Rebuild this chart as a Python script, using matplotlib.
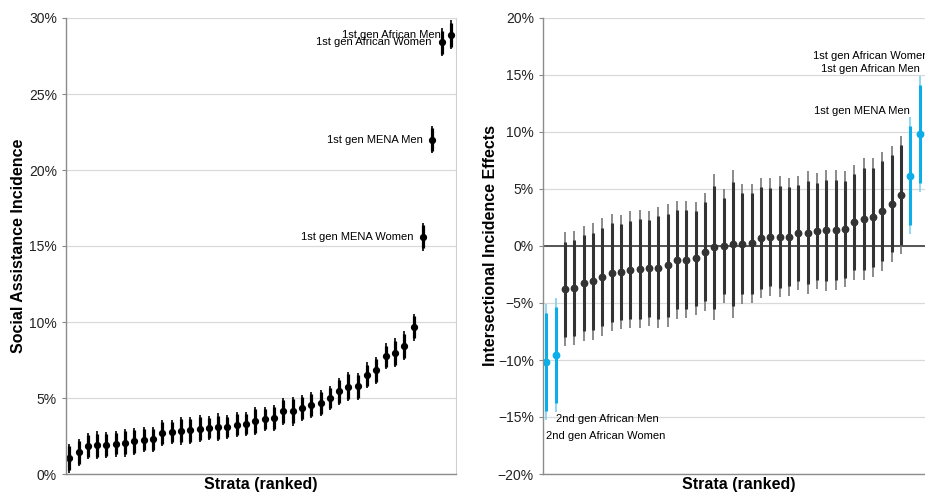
import matplotlib
matplotlib.use("Agg")
import matplotlib.pyplot as plt
from matplotlib.ticker import PercentFormatter
import numpy as np

plt.rcParams["font.family"] = ["Liberation Sans", "DejaVu Sans"]

# predicted incidence per stratum (%), ranked, with 95% CI half-widths
incidence = [1.03, 1.43, 1.84, 1.89, 1.93, 2.00, 2.06, 2.15, 2.26, 2.28,
             2.70, 2.76, 2.85, 2.87, 2.98, 3.03, 3.07, 3.11, 3.25, 3.29,
             3.49, 3.64, 3.68, 4.12, 4.14, 4.36, 4.54, 4.69, 5.00, 5.44,
             5.75, 5.77, 6.49, 6.82, 7.74, 7.98, 8.44, 9.65, 15.6, 22.0,
             28.4, 28.9]
incidence_ci = [0.95, 0.90, 0.86, 0.92, 0.85, 0.85, 0.92, 0.88, 0.80, 0.82,
                0.85, 0.80, 0.92, 0.90, 0.88, 0.80, 0.92, 0.80, 0.82, 0.78,
                0.95, 0.78, 0.85, 0.88, 0.95, 0.85, 0.85, 0.85, 0.80, 0.90,
                0.95, 0.90, 0.85, 0.90, 0.85, 0.95, 0.95, 0.87, 0.90, 0.90,
                0.92, 0.95]
incidence_labels = {39: "1st gen MENA Women", 40: "1st gen MENA Men",
                    41: "1st gen African Women", 42: "1st gen African Men"}

# intersectional effects (%), ranked, with 95% CI half-widths
effect = [-10.17, -9.59, -3.81, -3.69, -3.26, -3.11, -2.73, -2.33, -2.30, -2.09,
          -2.00, -1.95, -1.89, -1.71, -1.19, -1.19, -1.08, -0.50, -0.12, 0.00,
          0.15, 0.20, 0.23, 0.70, 0.79, 0.82, 0.82, 1.14, 1.17, 1.29,
          1.37, 1.40, 1.46, 2.08, 2.37, 2.51, 3.04, 3.71, 4.47, 6.17,
          9.82, 11.0]
effect_ci = [5.10, 5.00, 5.00, 5.00, 5.04, 5.10, 5.16, 5.14, 5.00, 5.13,
             5.20, 5.05, 5.34, 5.40, 5.17, 5.14, 4.97, 5.18, 6.40, 5.03,
             6.50, 5.27, 5.24, 5.29, 5.17, 5.32, 5.17, 5.03, 5.41, 5.08,
             5.30, 5.27, 5.09, 5.02, 5.35, 5.21, 5.21, 5.09, 5.21, 5.15,
             5.12, 5.10]
highlight = [1, 2, 40, 41, 42]
effect_labels = {1: "2nd gen African Women", 2: "2nd gen African Men",
                 40: "1st gen MENA Men", 41: "1st gen African Men",
                 42: "1st gen African Women"}

Z90 = 1.645 / 1.96

fig = plt.figure(figsize=(9.25, 4.95), dpi=100)
ax1 = fig.add_axes([66 / 925, 21 / 495, 390 / 925, 456 / 495])
ax2 = fig.add_axes([543 / 925, 21 / 495, 391 / 925, 456 / 495])


def style(ax):
    ax.yaxis.set_major_formatter(PercentFormatter(decimals=0))
    ax.grid(axis="y", color="#d9d9d9", lw=0.9)
    ax.set_axisbelow(True)
    ax.set_xticks([])
    ax.tick_params(axis="y", labelsize=10, colors="#888888", labelcolor="#222222",
                   length=3, width=0.8)
    for s in ("left", "bottom"):
        ax.spines[s].set_color("#8c8c8c")
        ax.spines[s].set_linewidth(1.0)
    ax.spines["top"].set_visible(False)
    ax.set_xlabel("Strata (ranked)", fontsize=11.5, fontweight="bold", labelpad=2)


# left: incidence
x1 = np.arange(1, len(incidence) + 1)
y1 = np.array(incidence)
c1 = np.array(incidence_ci)
ax1.vlines(x1, y1 - c1, y1 + c1, color="black", lw=1.2)
ax1.vlines(x1, y1 - c1 * Z90, y1 + c1 * Z90, color="black", lw=2.3)
ax1.plot(x1, y1, "o", color="black", ms=4.2)
ax1.set_xlim(0.65, 42.55)
ax1.set_ylim(0, 30)
ax1.set_yticks(np.arange(0, 31, 5))
style(ax1)
ax1.spines["right"].set_color("#d0d0d0")
ax1.set_ylabel("Social Assistance Incidence", fontsize=11.5, fontweight="bold", labelpad=2)
for k, txt in incidence_labels.items():
    ax1.annotate(txt, (k, incidence[k - 1]), xytext=(-7, 0), textcoords="offset points",
                 ha="right", va="center", fontsize=8)

# right: intersectional effects
x2 = np.arange(1, len(effect) + 1)
y2 = np.array(effect)
c2 = np.array(effect_ci)
dark = np.array([k not in highlight for k in x2])
for mask, inner, outer in ((dark, "#333333", "#777777"), (~dark, "#0aaee8", "#7fd0f2")):
    ax2.vlines(x2[mask], y2[mask] - c2[mask], y2[mask] + c2[mask], color=outer, lw=1.2)
    ax2.vlines(x2[mask], y2[mask] - c2[mask] * Z90, y2[mask] + c2[mask] * Z90,
               color=inner, lw=2.2)
    ax2.plot(x2[mask], y2[mask], "o", color=inner, ms=4.6)
ax2.axhline(0, color="#555555", lw=1.4, zorder=1.5)
ax2.set_xlim(0.65, 42.55)
ax2.set_ylim(-20, 20)
ax2.set_yticks(np.arange(-20, 21, 5))
style(ax2)
ax2.spines["right"].set_visible(False)
ax2.set_ylabel("Intersectional Incidence Effects", fontsize=11.5, fontweight="bold", labelpad=0)
offsets = {1: (0, -8), 2: (0, -1), 40: (0, 1), 41: (0, 1), 42: (0, 1)}
for k, txt in effect_labels.items():
    v = effect[k - 1]
    if v < 0:
        ax2.annotate(txt, (k, v - effect_ci[k - 1]), xytext=offsets[k],
                     textcoords="offset points", ha="left", va="top", fontsize=8)
    else:
        ax2.annotate(txt, (k, v + effect_ci[k - 1]), xytext=offsets[k],
                     textcoords="offset points", ha="right", va="bottom", fontsize=8)

fig.savefig("out.png", dpi=100)
